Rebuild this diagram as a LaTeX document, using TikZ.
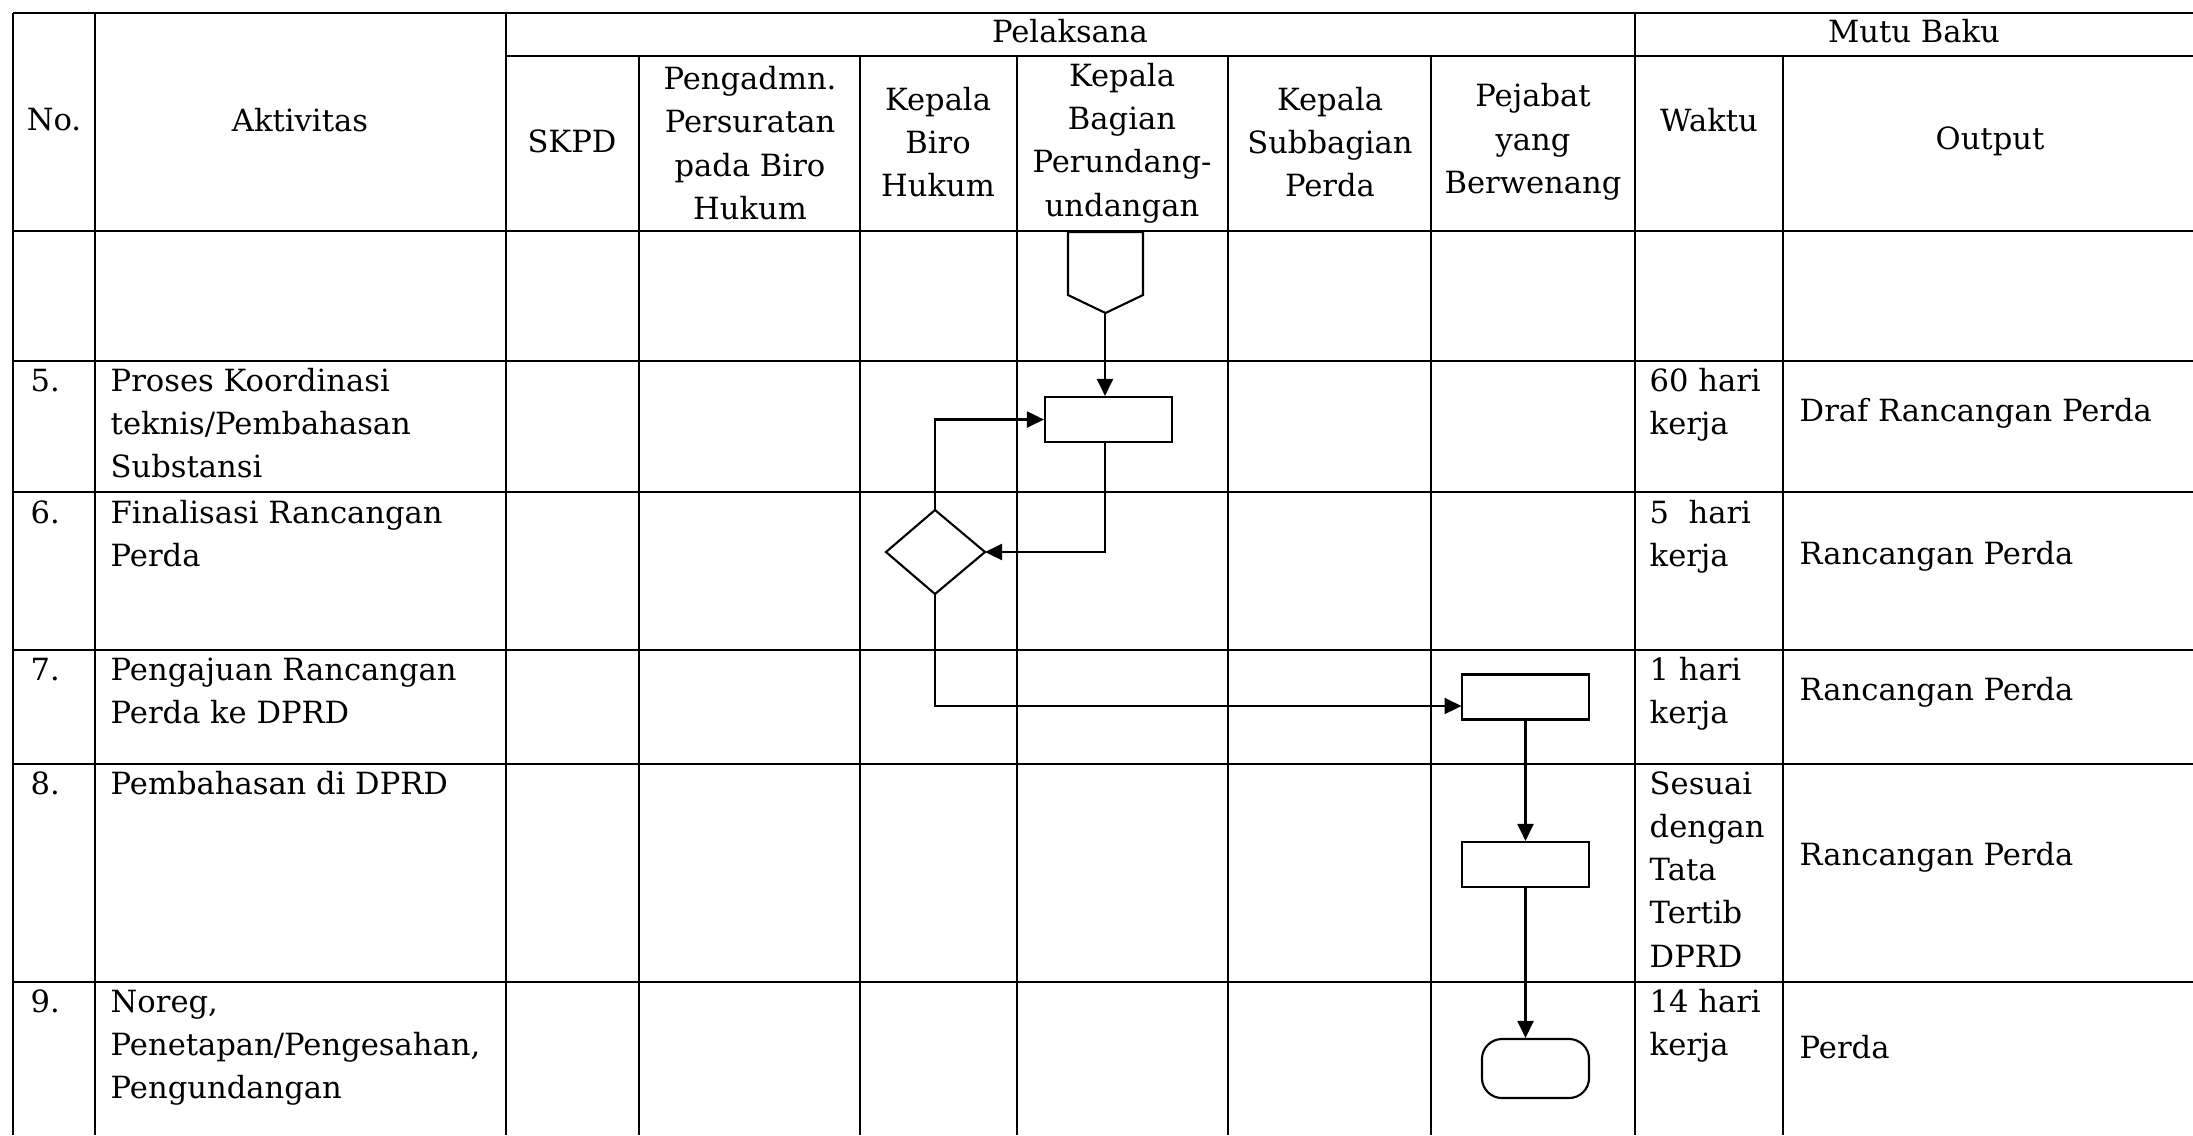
\documentclass[tikz,border=0pt]{standalone}
\usepackage{fontspec}
\setmainfont{DejaVu Serif}
\usetikzlibrary{arrows.meta}
\begin{document}
\begin{tikzpicture}[x=0.01cm,y=-0.01cm,
  vgrid/.style={line width=0.4pt},
  hgrid/.style={line width=0.5pt},
  txt/.style={font=\fontsize{8.7}{12.3}\selectfont, inner sep=0pt},
  ctr/.style={txt, align=center},
  lft/.style={txt, align=left, anchor=north west},
  one/.style={txt, anchor=west},
  box/.style={draw, line width=0.6pt, minimum width=1.27cm, minimum height=0.45cm, inner sep=0pt},
  flow/.style={line width=0.6pt, -{Triangle[length=0.17cm,width=0.16cm]}},
]
\useasboundingbox (0,0) rectangle (2193,1135);
% horizontal grid lines
\draw[hgrid] (13,12.7) -- (2193,12.7);
\draw[hgrid] (506,56) -- (2193,56);
\draw[hgrid] (13,231) -- (2193,231);
\foreach \yy in {361,492,650,764,982}
  \draw[hgrid] (13,\yy) -- (2193,\yy);
% vertical grid lines
\foreach \xx in {13,95,506,1635}
  \draw[vgrid] (\xx,12.7) -- (\xx,1135);
\foreach \xx in {639,860,1017,1228,1431,1783}
  \draw[vgrid] (\xx,56) -- (\xx,1135);
% header texts
\node[ctr] (hpel) at (1070,31) {Pelaksana};
\node[ctr] (hmutu) at (1914,31) {Mutu Baku};
\node[ctr] (hno) at (54,120) {No.};
\node[ctr] (hakt) at (300,120) {Aktivitas};
\node[ctr] (hskpd) at (572,141) {SKPD};
\node[ctr] (hpeng) at (750,143) {Pengadmn.\\Persuratan\\pada Biro\\Hukum};
\node[ctr] (hbiro) at (938,142) {Kepala\\Biro\\Hukum};
\node[ctr] (hbag) at (1122,143) {Kepala\\Bagian\\Perundang-\\undangan};
\node[ctr] (hsub) at (1330,142) {Kepala\\Subbagian\\Perda};
\node[ctr] (hpej) at (1533,142) {Pejabat\\yang\\Berwenang};
\node[ctr] (hwak) at (1709,120) {Waktu};
\node[ctr] (hout) at (1990,141) {Output};
% row 5
\node[lft] (n5) at (30,360) {\strut 5.};
\node[lft] (a5) at (110,360) {\strut Proses Koordinasi\\teknis/Pembahasan\\Substansi};
\node[lft] (w5) at (1649,360) {\strut 60 hari\\kerja};
\node[one] (o5) at (1799,413) {Draf Rancangan Perda};
% row 6
\node[lft] (n6) at (30,492) {\strut 6.};
\node[lft] (a6) at (110,492) {\strut Finalisasi Rancangan\\Perda};
\node[lft] (w6) at (1649,492) {\strut 5~ hari\\kerja};
\node[one] (o6) at (1799,556) {Rancangan Perda};
% row 7
\node[lft] (n7) at (30,649) {\strut 7.};
\node[lft] (a7) at (110,649) {\strut Pengajuan Rancangan\\Perda ke DPRD};
\node[lft] (w7) at (1649,649) {\strut 1 hari\\kerja};
\node[one] (o7) at (1799,692) {Rancangan Perda};
% row 8
\node[lft] (n8) at (30,763) {\strut 8.};
\node[lft] (a8) at (110,763) {\strut Pembahasan di DPRD};
\node[lft] (w8) at (1649,763) {\strut Sesuai\\dengan\\Tata\\Tertib\\DPRD};
\node[one] (o8) at (1799,857) {Rancangan Perda};
% row 9
\node[lft] (n9) at (30,981) {\strut 9.};
\node[lft] (a9) at (110,981) {\strut Noreg,\\Penetapan/Pengesahan,\\Pengundangan};
\node[lft] (w9) at (1649,981) {\strut 14 hari\\kerja};
\node[one] (o9) at (1799,1047) {Perda};
% flowchart shapes
\draw[line width=0.6pt] (1068,232) -- (1143,232) -- (1143,295) -- (1105.5,313) -- (1068,295) -- cycle;
\coordinate (offtip) at (1105,313);
\node[box] (r1) at (1108.5,419.5) {};
\draw[line width=0.6pt] (935,510) -- (985,552) -- (935,594) -- (886,552) -- cycle;
\coordinate (dtop) at (935,510);
\coordinate (dright) at (985,552);
\coordinate (dbot) at (935,594);
\node[box] (r2) at (1525.5,697) {};
\node[box] (r3) at (1525.5,864.5) {};
\node[draw, line width=0.6pt, minimum width=1.07cm, minimum height=0.59cm, rounded corners=0.2cm, inner sep=0pt] (term) at (1535.5,1068.5) {};
% connectors
\draw[flow] (offtip) -- (offtip |- r1.north);
\draw[flow] (offtip |- r1.south) |- (dright);
\draw[flow] (dtop) |- (r1.west);
\coordinate (r2in) at (1461.5,706);
\draw[flow] (dbot) |- (r2in);
\draw[flow] (r2.south) -- (r3.north);
\draw[flow] (r3.south) -- (r3.south |- term.north);
\end{tikzpicture}
\end{document}
